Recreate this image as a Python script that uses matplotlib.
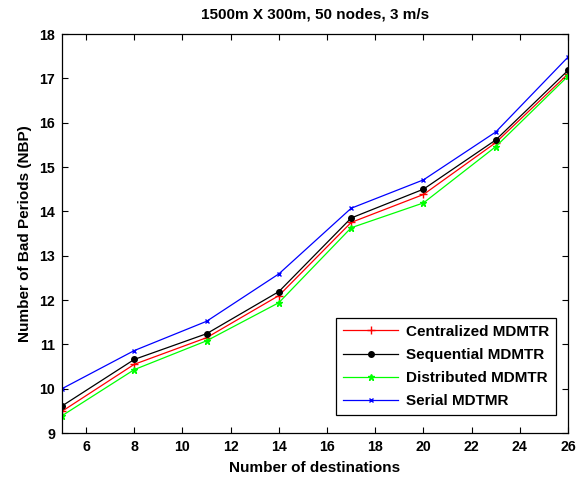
import matplotlib
matplotlib.use("Agg")
import matplotlib.pyplot as plt

plt.rcParams['font.family'] = ['Liberation Sans', 'DejaVu Sans']
plt.rcParams['font.weight'] = 'bold'

destinations = [5, 8, 11, 14, 17, 20, 23, 26]
centralized = [9.49, 10.55, 11.15, 12.10, 13.75, 14.38, 15.55, 17.10]
sequential = [9.61, 10.66, 11.24, 12.19, 13.85, 14.50, 15.61, 17.18]
distributed = [9.39, 10.43, 11.08, 11.94, 13.63, 14.19, 15.46, 17.05]
serial = [10.00, 10.86, 11.52, 12.59, 14.07, 14.71, 15.79, 17.48]

x_ticks = [6, 8, 10, 12, 14, 16, 18, 20, 22, 24, 26]
y_ticks = [9, 10, 11, 12, 13, 14, 15, 16, 17, 18]

fig = plt.figure(figsize=(5.85, 4.79), dpi=100)
ax = fig.add_axes([0.106, 0.096, 0.865, 0.833])

ax.plot(destinations, centralized, color='#ff0000', lw=0.9, marker='+', ms=6, mew=1.0,
        label='Centralized MDMTR')
ax.plot(destinations, sequential, color='#000000', lw=0.9, marker='.', ms=8,
        label='Sequential MDMTR')
ax.plot(destinations, distributed, color='#00ff00', lw=0.9, marker='*', ms=5,
        label='Distributed MDMTR')
ax.plot(destinations, serial, color='#0000ff', lw=0.9, marker='x', ms=3.5, mew=1.0,
        label='Serial MDTMR')

ax.set_xlim(5, 26)
ax.set_ylim(9, 18)
ax.set_xticks(x_ticks)
ax.set_yticks(y_ticks)
ax.tick_params(direction='in', top=True, right=True, length=4, width=0.8,
               labelsize=10.2, pad=5)
for lbl in ax.get_xticklabels() + ax.get_yticklabels():
    lbl.set_fontweight('bold')
for sp in ax.spines.values():
    sp.set_linewidth(0.9)

ax.set_xlabel('Number of destinations', fontsize=11, fontweight='bold', labelpad=5)
ax.set_ylabel('Number of Bad Periods (NBP)', fontsize=11, fontweight='bold', labelpad=5)
ax.set_title('1500m X 300m, 50 nodes, 3 m/s', fontsize=11, fontweight='bold', pad=11)

leg = ax.legend(loc='lower right', bbox_to_anchor=(0.976, 0.045), fancybox=False,
                edgecolor='black', framealpha=1, prop={'size': 11, 'weight': 'bold'},
                handlelength=3.6, borderpad=0.45, labelspacing=0.6, handletextpad=0.5,
                borderaxespad=0)
leg.get_frame().set_linewidth(0.9)

fig.savefig('out.png', dpi=100)
